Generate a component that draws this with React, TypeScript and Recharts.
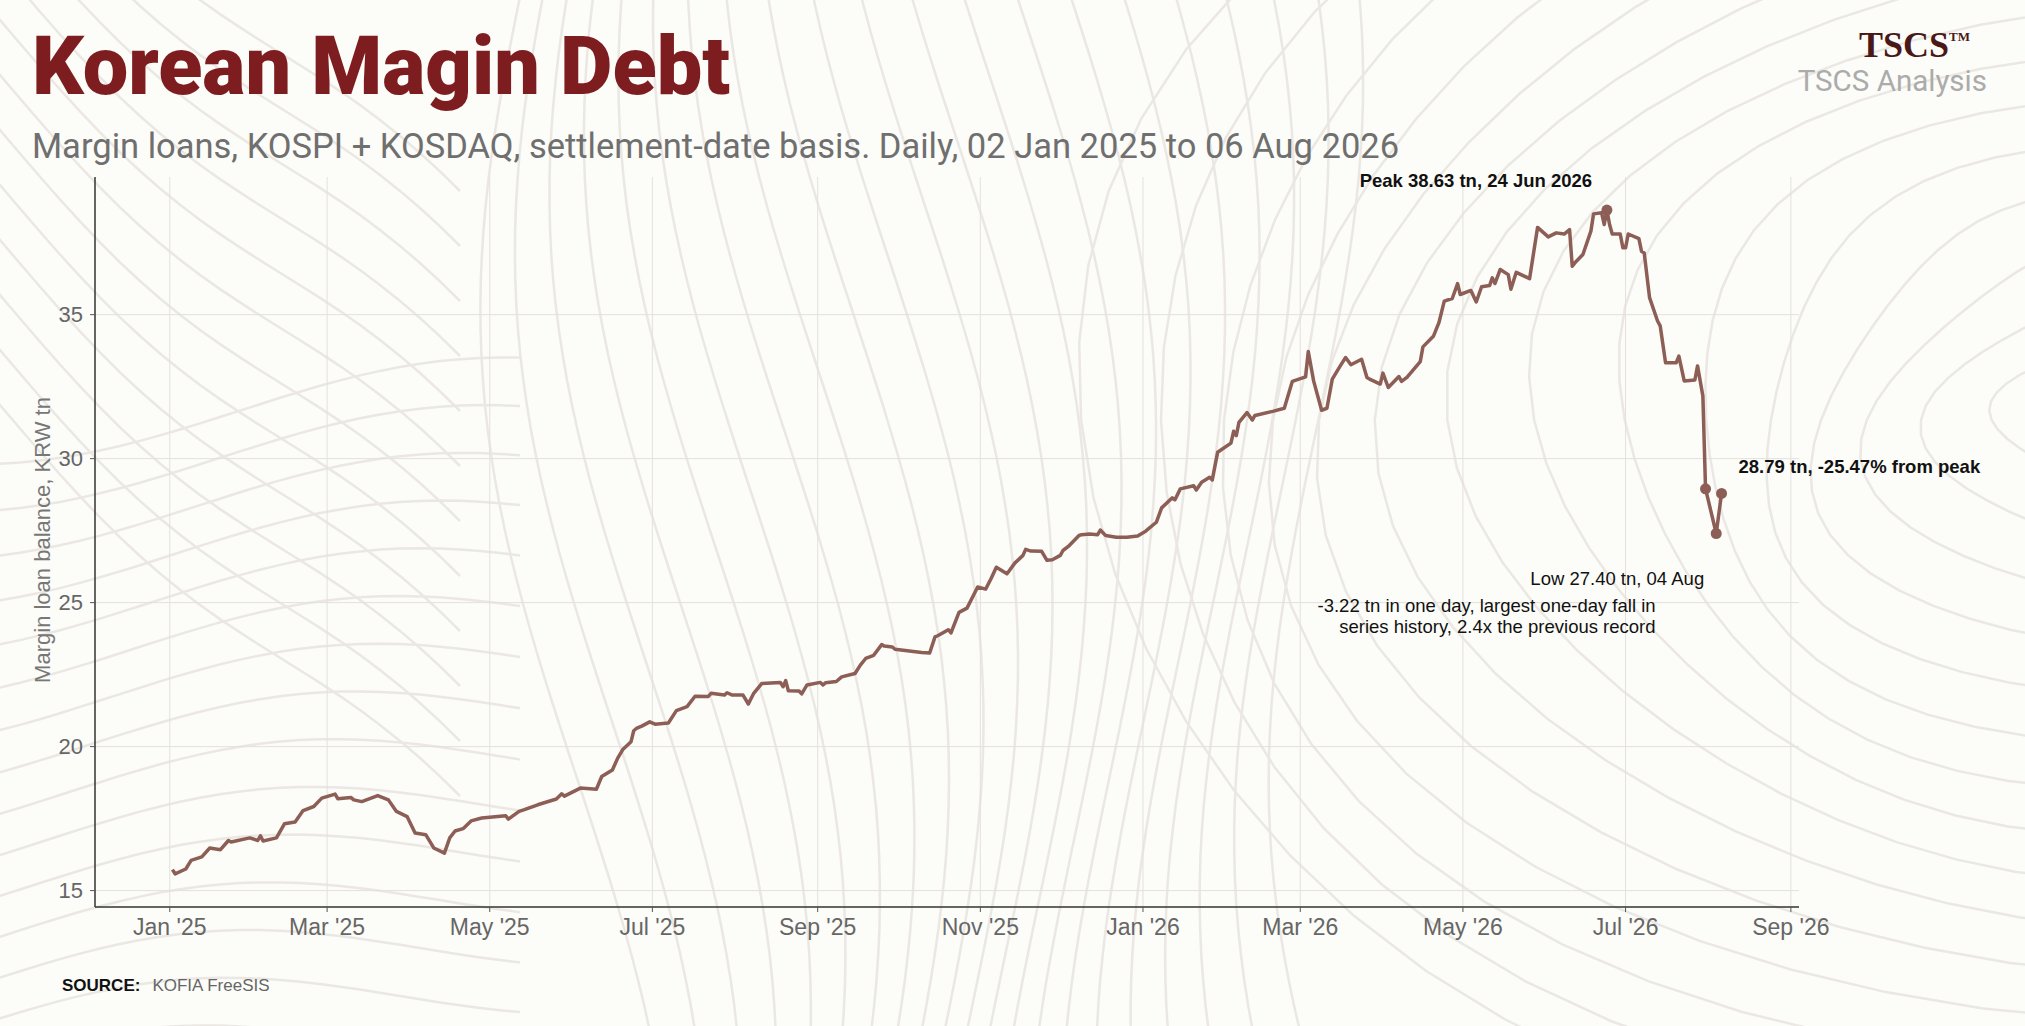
import React from 'react';
import { LineChart, Line, XAxis, YAxis, CartesianGrid } from 'recharts';

const W = 2025;
const H = 1026;

// trading days (KRW tn)
const dates = [
  '2025-01-02', '2025-01-03', '2025-01-07', '2025-01-09', '2025-01-13', '2025-01-16', '2025-01-20',
  '2025-01-23', '2025-01-24', '2025-01-31', '2025-02-03', '2025-02-04', '2025-02-05', '2025-02-10',
  '2025-02-13', '2025-02-17', '2025-02-20', '2025-02-24', '2025-02-27', '2025-03-04', '2025-03-05',
  '2025-03-10', '2025-03-11', '2025-03-14', '2025-03-20', '2025-03-24', '2025-03-27', '2025-03-31',
  '2025-04-03', '2025-04-07', '2025-04-10', '2025-04-14', '2025-04-16', '2025-04-18', '2025-04-21',
  '2025-04-24', '2025-04-28', '2025-05-07', '2025-05-08', '2025-05-12', '2025-05-14', '2025-05-19',
  '2025-05-26', '2025-05-28', '2025-05-29', '2025-06-04', '2025-06-10', '2025-06-12', '2025-06-16',
  '2025-06-18', '2025-06-20', '2025-06-23', '2025-06-24', '2025-06-25', '2025-06-27', '2025-06-30',
  '2025-07-02', '2025-07-07', '2025-07-10', '2025-07-14', '2025-07-17', '2025-07-22', '2025-07-23',
  '2025-07-28', '2025-07-29', '2025-07-31', '2025-08-04', '2025-08-06', '2025-08-08', '2025-08-11',
  '2025-08-18', '2025-08-19', '2025-08-20', '2025-08-21', '2025-08-25', '2025-08-26', '2025-08-28',
  '2025-09-02', '2025-09-03', '2025-09-04', '2025-09-08', '2025-09-10', '2025-09-15', '2025-09-17',
  '2025-09-19', '2025-09-22', '2025-09-25', '2025-09-26', '2025-09-29', '2025-09-30', '2025-10-10',
  '2025-10-13', '2025-10-15', '2025-10-16', '2025-10-20', '2025-10-21', '2025-10-24', '2025-10-27',
  '2025-10-31', '2025-11-03', '2025-11-05', '2025-11-07', '2025-11-11', '2025-11-14', '2025-11-17',
  '2025-11-18', '2025-11-20', '2025-11-24', '2025-11-26', '2025-11-28', '2025-12-01', '2025-12-02',
  '2025-12-04', '2025-12-08', '2025-12-09', '2025-12-12', '2025-12-15', '2025-12-16', '2025-12-18',
  '2025-12-22', '2025-12-26', '2025-12-30', '2026-01-02', '2026-01-06', '2026-01-08', '2026-01-12',
  '2026-01-13', '2026-01-15', '2026-01-20', '2026-01-21', '2026-01-23', '2026-01-26', '2026-01-27',
  '2026-01-29', '2026-02-03', '2026-02-04', '2026-02-05', '2026-02-06', '2026-02-09', '2026-02-11',
  '2026-02-12', '2026-02-19', '2026-02-23', '2026-02-26', '2026-03-03', '2026-03-04', '2026-03-06',
  '2026-03-09', '2026-03-11', '2026-03-13', '2026-03-16', '2026-03-18', '2026-03-20', '2026-03-24',
  '2026-03-26', '2026-03-27', '2026-03-31', '2026-04-01', '2026-04-03', '2026-04-07', '2026-04-08',
  '2026-04-10', '2026-04-15', '2026-04-16', '2026-04-20', '2026-04-22', '2026-04-24', '2026-04-27',
  '2026-04-29', '2026-04-30', '2026-05-04', '2026-05-06', '2026-05-08', '2026-05-11', '2026-05-12',
  '2026-05-13', '2026-05-15', '2026-05-18', '2026-05-19', '2026-05-21', '2026-05-26', '2026-05-29',
  '2026-06-02', '2026-06-05', '2026-06-08', '2026-06-10', '2026-06-11', '2026-06-12', '2026-06-15',
  '2026-06-18', '2026-06-19', '2026-06-22', '2026-06-23', '2026-06-24', '2026-06-25', '2026-06-26',
  '2026-06-29', '2026-06-30', '2026-07-01', '2026-07-02', '2026-07-06', '2026-07-07', '2026-07-08',
  '2026-07-10', '2026-07-13', '2026-07-14', '2026-07-16', '2026-07-20', '2026-07-21', '2026-07-23',
  '2026-07-27', '2026-07-28', '2026-07-30', '2026-07-31', '2026-08-04', '2026-08-06',
];

const balance = [
  15.73, 15.58, 15.75, 16.05, 16.17, 16.48, 16.42,
  16.74, 16.69, 16.83, 16.74, 16.9, 16.72, 16.83,
  17.32, 17.38, 17.78, 17.92, 18.21, 18.35, 18.19,
  18.23, 18.15, 18.09, 18.3, 18.15, 17.75, 17.57,
  17.0, 16.94, 16.48, 16.3, 16.83, 17.07, 17.15,
  17.42, 17.52, 17.6, 17.48, 17.75, 17.81, 17.98,
  18.18, 18.36, 18.28, 18.56, 18.52, 18.96, 19.19,
  19.6, 19.91, 20.17, 20.55, 20.63, 20.71, 20.86,
  20.78, 20.82, 21.25, 21.39, 21.75, 21.74, 21.85,
  21.79, 21.87, 21.79, 21.79, 21.48, 21.85, 22.19,
  22.23, 22.08, 22.29, 21.94, 21.93, 21.83, 22.14,
  22.23, 22.14, 22.22, 22.26, 22.42, 22.54, 22.83,
  23.06, 23.17, 23.54, 23.49, 23.46, 23.38, 23.27,
  23.25, 23.81, 23.85, 24.06, 23.95, 24.66, 24.81,
  25.54, 25.47, 25.83, 26.23, 26.0, 26.38, 26.64,
  26.85, 26.79, 26.78, 26.47, 26.49, 26.64, 26.81,
  26.95, 27.33, 27.36, 27.38, 27.36, 27.52, 27.33,
  27.27, 27.27, 27.31, 27.48, 27.79, 28.29, 28.64,
  28.57, 28.95, 29.06, 28.91, 29.18, 29.35, 29.26,
  30.22, 30.54, 30.95, 30.8, 31.26, 31.6, 31.34,
  31.5, 31.65, 31.75, 32.68, 32.84, 33.72, 32.7,
  31.68, 31.75, 32.76, 33.22, 33.51, 33.26, 33.45,
  32.82, 32.76, 32.59, 32.97, 32.47, 32.85, 32.68,
  32.82, 33.37, 33.88, 34.26, 34.72, 35.47, 35.56,
  36.08, 35.7, 35.84, 35.44, 35.97, 36.01, 36.28,
  36.08, 36.57, 36.39, 35.88, 36.47, 36.25, 38.03,
  37.7, 37.84, 37.8, 37.95, 36.68, 36.8, 37.09,
  37.9, 38.5, 38.54, 38.13, 38.63, 38.13, 37.8,
  37.8, 37.32, 37.32, 37.8, 37.64, 37.2, 37.14,
  35.59, 34.78, 34.61, 33.33, 33.33, 33.56, 32.7,
  32.73, 33.22, 32.17, 28.95, 27.4, 28.79,
];

const yTicks = [15, 20, 25, 30, 35];
const xTickDates = [
  '2025-01-01', '2025-03-01', '2025-05-01', '2025-07-01', '2025-09-01', '2025-11-01',
  '2026-01-01', '2026-03-01', '2026-05-01', '2026-07-01', '2026-09-01',
];
const monthNames = ['Jan', 'Feb', 'Mar', 'Apr', 'May', 'Jun', 'Jul', 'Aug', 'Sep', 'Oct', 'Nov', 'Dec'];

// highlighted points and their callouts
const notes = [
  { date: '2026-06-24', lines: ['Peak 38.63 tn, 24 Jun 2026'], bold: true, anchor: 'middle', dx: -131, dy: -30 },
  {
    date: '2026-07-31',
    lines: ['-3.22 tn in one day, largest one-day fall in', 'series history, 2.4x the previous record'],
    bold: false, anchor: 'end', dx: -50, dy: 116,
  },
  { date: '2026-08-04', lines: ['Low 27.40 tn, 04 Aug'], bold: false, anchor: 'end', dx: -12, dy: 44 },
  { date: '2026-08-06', lines: ['28.79 tn, -25.47% from peak'], bold: true, anchor: 'start', dx: 17, dy: -27 },
];

const ts = (s: string) => {
  const [y, m, d] = s.split('-').map(Number);
  return Date.UTC(y, m - 1, d);
};

const data = dates.map((d, i) => ({ t: ts(d), v: balance[i], date: d }));
const tFirst = data[0].t;
const tLast = data[data.length - 1].t;
const pad = (tLast - tFirst) * 0.05;
const xTicks = xTickDates.map(ts);

const fmtTick = (t: number) => {
  const d = new Date(t);
  return `${monthNames[d.getUTCMonth()]} '${String(d.getUTCFullYear()).slice(2)}`;
};

const LINE = '#8c5e55';
const SANS = '"Liberation Sans", Arial, sans-serif';

// decorative topographic lines behind everything
function Contours() {
  const paths: string[] = [];
  for (let y0 = 430; y0 < 1100; y0 += 46) {
    let p = '';
    for (let x = -20; x <= 520; x += 20) {
      const y = y0 + 34 * Math.sin(x / 140 + y0 / 300) - x * 0.08;
      p += `${p ? 'L' : 'M'}${x},${y.toFixed(1)}`;
    }
    paths.push(p);
  }
  for (let y0 = -200; y0 < 420; y0 += 55) {
    let p = '';
    for (let x = -20; x <= 460; x += 20) {
      const y = y0 + x * 0.9 + 25 * Math.sin(x / 90);
      p += `${p ? 'L' : 'M'}${x},${y.toFixed(1)}`;
    }
    paths.push(p);
  }
  for (let x0 = 560; x0 < 1330; x0 += 38) {
    let p = '';
    for (let y = -20; y <= 1050; y += 25) {
      const x = x0 + 70 * Math.sin(y / 260 + x0 / 170) + (y - 500) * 0.06;
      p += `${p ? 'L' : 'M'}${x.toFixed(1)},${y}`;
    }
    paths.push(p);
  }
  for (let r = 120; r < 1000; r += 62) {
    let p = '';
    for (let a = 90; a <= 270; a += 6) {
      const rad = (a * Math.PI) / 180;
      const x = 2150 + r * 1.1 * Math.cos(rad) + 30 * Math.sin(r / 80 + a / 20);
      const y = 420 + r * 0.75 * Math.sin(rad);
      p += `${p ? 'L' : 'M'}${x.toFixed(1)},${y.toFixed(1)}`;
    }
    paths.push(p);
  }
  return (
    <svg width={W} height={H} style={{ position: 'absolute', left: 0, top: 0 }}>
      <rect width={W} height={H} fill="#fcfcf8" />
      {paths.map((d, i) => (
        <path key={i} d={d} fill="none" stroke="#ebe8e4" strokeWidth={2.5} />
      ))}
    </svg>
  );
}

function NoteDot(props: any) {
  const { cx, cy, payload, index } = props;
  const note = notes.find((n) => n.date === payload.date);
  if (!note || cx == null) return <g key={index} />;
  return (
    <g key={index}>
      <circle cx={cx} cy={cy} r={5.5} fill={LINE} />
      <text
        x={cx + note.dx}
        y={cy + note.dy}
        textAnchor={note.anchor}
        dominantBaseline="central"
        fontFamily={SANS}
        fontSize={18.5}
        fontWeight={note.bold ? 700 : 400}
        fill="#111"
      >
        {note.lines.map((l, i) => (
          <tspan key={i} x={cx + note.dx} dy={i === 0 ? 0 : 21}>
            {l}
          </tspan>
        ))}
      </text>
    </g>
  );
}

export default function App() {
  return (
    <div style={{ position: 'absolute', left: 0, top: 0, width: W, height: H, overflow: 'hidden' }}>
      <Contours />
      <div style={{ position: 'absolute', left: 0, top: 0 }}>
        <LineChart
          width={W}
          height={H}
          data={data}
          margin={{ top: 177, right: 226, bottom: 79, left: 35 }}
        >
          <CartesianGrid stroke="#e4e1dd" strokeWidth={1} horizontalValues={yTicks} verticalValues={xTicks} />
          <XAxis
            dataKey="t"
            type="number"
            domain={[tFirst - pad, tLast + pad]}
            ticks={xTicks}
            tickFormatter={fmtTick}
            height={40}
            tickSize={5}
            tickMargin={7}
            tick={{ fontSize: 23, fill: '#666', fontFamily: SANS }}
            axisLine={{ stroke: '#333', strokeWidth: 1.5 }}
            tickLine={{ stroke: '#555' }}
          />
          <YAxis
            type="number"
            domain={[14.43, 39.78]}
            ticks={yTicks}
            width={60}
            tickSize={5}
            tickMargin={7}
            tick={{ fontSize: 22, fill: '#666', fontFamily: SANS }}
            axisLine={{ stroke: '#333', strokeWidth: 1.5 }}
            tickLine={{ stroke: '#555' }}
          />
          <Line
            type="linear"
            dataKey="v"
            stroke={LINE}
            strokeWidth={3.5}
            strokeLinejoin="round"
            dot={NoteDot}
            activeDot={false}
            isAnimationActive={false}
          />
        </LineChart>
      </div>
      <svg width={W} height={H} style={{ position: 'absolute', left: 0, top: 0, pointerEvents: 'none' }}>
        <text x={32} y={94} fontFamily="Roboto, sans-serif" fontWeight={900} fontSize={81} fill="#7d1d1f">
          Korean Magin Debt
        </text>
        <text x={32} y={158} fontFamily="Roboto, sans-serif" fontSize={34.5} fill="#6f6f6f">
          Margin loans, KOSPI + KOSDAQ, settlement-date basis. Daily, 02 Jan 2025 to 06 Aug 2026
        </text>
        <text x={1970} y={57} textAnchor="end" fontFamily='"Liberation Serif", serif' fontWeight={700} fontSize={36} fill="#4a1816">
          TSCS<tspan fontSize={13} dy={-16}>TM</tspan>
        </text>
        <text x={1987} y={91} textAnchor="end" fontFamily="Roboto, sans-serif" fontSize={29.5} fill="#ababab">
          TSCS Analysis
        </text>
        <text
          x={42}
          y={540}
          transform="rotate(-90 42 540)"
          textAnchor="middle"
          dominantBaseline="central"
          fontFamily={SANS}
          fontSize={22}
          fill="#777"
        >
          Margin loan balance, KRW tn
        </text>
        <text x={62} y={991} fontFamily={SANS} fontSize={17} fill="#111">
          <tspan fontWeight={700}>SOURCE:</tspan>
          <tspan dx={12} fill="#666">KOFIA FreeSIS</tspan>
        </text>
      </svg>
    </div>
  );
}
